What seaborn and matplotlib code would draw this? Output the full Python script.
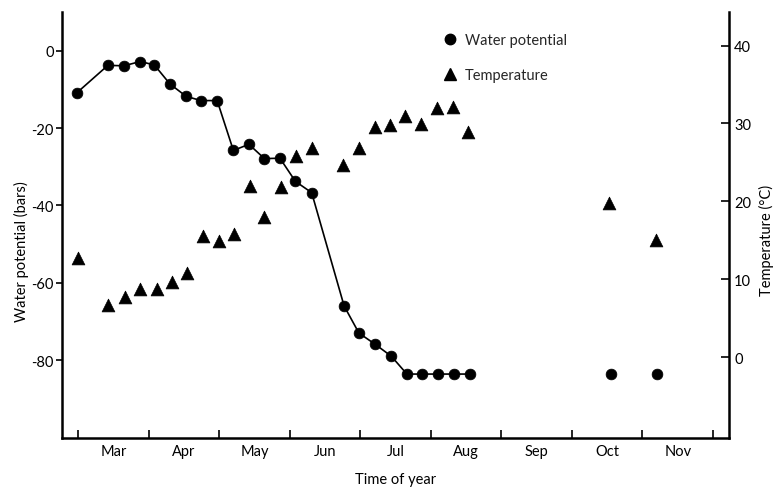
import numpy as np
import pandas as pd
import matplotlib
matplotlib.use("Agg")
import matplotlib.pyplot as plt
from matplotlib.lines import Line2D
import seaborn as sns

# ---- data (x in months after 1 March) ----
wp_month = [-0.02, 0.42, 0.65, 0.88, 1.08, 1.30, 1.53, 1.74, 1.97, 2.20, 2.42, 2.64, 2.86,
            3.08, 3.31, 3.77, 3.98, 4.21, 4.44, 4.66, 4.87, 5.10, 5.33, 5.55, 7.55, 8.21]
wp_value = [-10.9, -3.8, -3.9, -2.8, -3.7, -8.6, -11.8, -12.9, -12.9, -25.8, -24.2, -27.9, -27.8,
            -33.8, -36.7, -66.0, -73.0, -75.9, -79.0, -83.6, -83.6, -83.6, -83.6, -83.6, -83.6, -83.6]
wp_connected = [True] * 24 + [False] * 2

t_month = [0.00, 0.42, 0.67, 0.88, 1.11, 1.33, 1.54, 1.77, 1.99, 2.21, 2.43, 2.64, 2.87,
           3.09, 3.31, 3.75, 3.98, 4.21, 4.42, 4.64, 4.86, 5.08, 5.32, 5.53, 7.53, 8.19]
t_value = [12.7, 6.7, 7.7, 8.7, 8.8, 9.6, 10.8, 15.6, 14.9, 15.8, 22.0, 18.0, 21.8,
           25.8, 26.8, 24.7, 26.8, 29.6, 29.8, 31.0, 29.9, 32.0, 32.1, 28.9, 19.8, 15.0]

month_labels = ["Mar", "Apr", "May", "Jun", "Jul", "Aug", "Sep", "Oct", "Nov"]
wp_ticks = [0, -20, -40, -60, -80]
t_ticks = [0, 10, 20, 30, 40]

wp_df = pd.DataFrame({"month": wp_month, "wp": wp_value, "connected": wp_connected})
t_df = pd.DataFrame({"month": t_month, "temp": t_value})

# ---- style ----
sns.set_theme(style="white")
plt.rcParams["font.family"] = ["Lato", "DejaVu Sans"]
FS = 10.5

fig = plt.figure(figsize=(7.82, 4.89), dpi=100)
ax = fig.add_axes([62 / 782, 1 - 438.5 / 489, (728.5 - 62) / 782, (438.5 - 13) / 489])

sns.lineplot(data=wp_df[wp_df["connected"]], x="month", y="wp", ax=ax,
             color="black", linewidth=1.2, legend=False)
sns.scatterplot(data=wp_df, x="month", y="wp", ax=ax, marker="o", s=60,
                color="black", edgecolor="black", linewidth=0.5, legend=False, zorder=3)

ax.set_xlim(-0.23, 9.22)
ax.set_ylim(-100, 10)

ax2 = ax.twinx()
sns.scatterplot(data=t_df, x="month", y="temp", ax=ax2, marker="^", s=85,
                color="black", edgecolor="black", linewidth=0.5, legend=False, zorder=3)
ax2.set_ylim(-10.3, 44.3)
ax2.set_xlim(-0.23, 9.22)

# spines
for a in (ax, ax2):
    a.spines["top"].set_visible(False)
    for s in ("left", "right", "bottom"):
        a.spines[s].set_linewidth(1.8)
        a.spines[s].set_color("black")
ax.spines["right"].set_visible(False)
ax2.spines["left"].set_visible(False)
ax2.spines["bottom"].set_visible(False)

# x ticks: month boundaries (marks), month names between them
ax.set_xticks(np.arange(0, 10))
ax.set_xticklabels([])
ax.set_xticks(np.arange(0.5, 9), minor=True)
ax.set_xticklabels(month_labels, minor=True)
ax.tick_params(axis="x", which="major", direction="in", length=6, width=1.2,
               color="black", bottom=True)
ax.tick_params(axis="x", which="minor", length=0, pad=5, labelsize=FS, labelcolor="black")

# left ticks
ax.set_yticks(wp_ticks)
ax.set_yticklabels([str(v) for v in wp_ticks])
ax.tick_params(axis="y", direction="out", length=4, width=1.2, color="black",
               pad=2, labelsize=FS, labelcolor="black", left=True)

# right ticks
ax2.set_yticks(t_ticks)
ax2.set_yticklabels([str(v) for v in t_ticks])
ax2.tick_params(axis="y", direction="in", length=6, width=1.2, color="black",
                pad=4, labelsize=FS, labelcolor="black", right=True)

# labels
ax.set_xlabel("Time of year", fontsize=FS, color="black")
ax.xaxis.set_label_coords(0.50, -0.080)
ax.set_ylabel("Water potential (bars)", fontsize=FS, color="black")
ax.yaxis.set_label_coords(-0.050, 0.44)
ax2.set_ylabel("Temperature (\u00b0C)", fontsize=FS, color="black")
ax2.yaxis.set_label_coords(1.046, 0.466)

# legend
handles = [
    Line2D([], [], marker="o", linestyle="none", color="black", markersize=7.5),
    Line2D([], [], marker="^", linestyle="none", color="black", markersize=9),
]
fig.legend(handles, ["Water potential", "Temperature"], loc="upper left",
           bbox_to_anchor=(443 / 782, 1 - 34 / 489), frameon=False, fontsize=FS,
           handlelength=1.0, handletextpad=0.5, labelspacing=1.45,
           borderpad=0, borderaxespad=0)

fig.savefig("out.png", dpi=100, facecolor="white")
